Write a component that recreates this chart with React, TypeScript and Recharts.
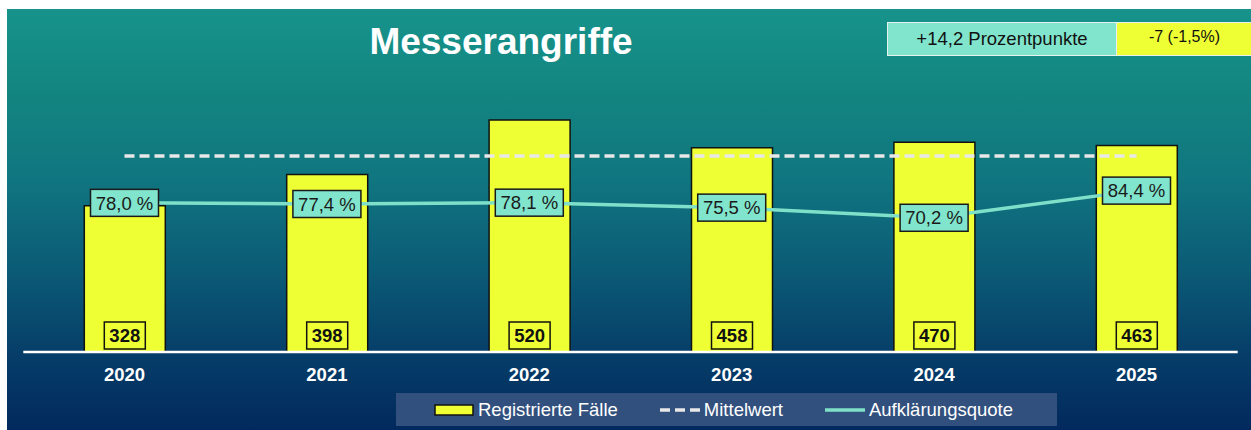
import React from 'react';
import { ComposedChart, Bar, Line, XAxis, YAxis, LabelList, Legend } from 'recharts';

const years = ['2020', '2021', '2022', '2023', '2024', '2025'];
const registrierteFaelle = [328, 398, 520, 458, 470, 463];
const aufklaerungsquote = [78.0, 77.4, 78.1, 75.5, 70.2, 84.4];
const mittelwert = [439.5, 439.5, 439.5, 439.5, 439.5, 439.5];

const title = 'Messerangriffe';
const changeQuote = '+14,2 Prozentpunkte';
const changeFaelle = '-7 (-1,5%)';
const legendLabels = ['Registrierte Fälle', 'Mittelwert', 'Aufklärungsquote'];

const FONT = '"Liberation Sans", Arial, sans-serif';
const YELLOW = '#eeff33';
const TEAL = '#80e5cc';
const LINE_TEAL = '#7fe0c9';

const data = years.map((y, i) => ({
  year: y,
  faelle: registrierteFaelle[i],
  quote: aufklaerungsquote[i],
  mittel: mittelwert[i],
}));

const BarValueLabel = (props: any) => {
  const { x, y, width, height, value } = props;
  const w = 41;
  const h = 27;
  const cx = Number(x) + Number(width) / 2;
  const bottom = Number(y) + Number(height) - 3;
  return (
    <g>
      <rect x={cx - w / 2} y={bottom - h} width={w} height={h} fill={YELLOW} stroke="#111" strokeWidth={1.5} />
      <text x={cx} y={bottom - h / 2 + 6.7} textAnchor="middle" fontFamily={FONT} fontWeight="bold" fontSize={18.5} fill="#111">
        {value}
      </text>
    </g>
  );
};

const QuoteLabel = (props: any) => {
  const { x, y, value } = props;
  const w = 68;
  const h = 27;
  const txt = Number(value).toFixed(1).replace('.', ',') + ' %';
  return (
    <g>
      <rect x={Number(x) - w / 2} y={Number(y) - h / 2} width={w} height={h} fill={TEAL} stroke="#1a1a1a" strokeWidth={1.5} />
      <text x={Number(x)} y={Number(y) + 6.7} textAnchor="middle" fontFamily={FONT} fontSize={18.5} fill="#1a1a1a">
        {txt}
      </text>
    </g>
  );
};

const LegendContent = () => {
  const icons = [
    <svg width={40} height={12} key="b"><rect x={1} y={1} width={38} height={10} fill={YELLOW} stroke="#111" strokeWidth={1.5} /></svg>,
    <svg width={40} height={12} key="m"><line x1={0} y1={6} x2={40} y2={6} stroke="#e8e8e8" strokeWidth={3.5} strokeDasharray="10 5" /></svg>,
    <svg width={40} height={12} key="q"><line x1={0} y1={6} x2={40} y2={6} stroke={LINE_TEAL} strokeWidth={3.5} /></svg>,
  ];
  return (
    <div
      style={{
        width: 661,
        height: 33,
        background: '#32507e',
        display: 'flex',
        alignItems: 'center',
        justifyContent: 'center',
        gap: 42,
        fontFamily: FONT,
        fontSize: 18.5,
        color: '#ffffff',
        boxSizing: 'border-box',
        paddingRight: 6,
      }}
    >
      {legendLabels.map((l, i) => (
        <div key={l} style={{ display: 'flex', alignItems: 'center', gap: 4 }}>
          {icons[i]}
          <span>{l}</span>
        </div>
      ))}
    </div>
  );
};

export default function App() {
  return (
    <div
      style={{
        position: 'absolute',
        left: 7,
        top: 9,
        width: 1244,
        height: 421,
        background: 'linear-gradient(180deg, #17938c 0%, #138580 20%, #107680 40%, #0b5b76 62%, #063e69 82%, #02295d 100%)',
        overflow: 'hidden',
        fontFamily: FONT,
      }}
    >
      <div
        style={{
          position: 'absolute',
          left: 300,
          width: 388,
          top: 14,
          textAlign: 'center',
          fontSize: 37,
          lineHeight: '37px',
          fontWeight: 'bold',
          color: '#ffffff',
        }}
      >
        {title}
      </div>
      <div
        style={{
          position: 'absolute',
          left: 880,
          top: 13,
          height: 34,
          width: 370,
          display: 'flex',
          boxSizing: 'border-box',
          border: '1.5px solid #e6f2f0',
        }}
      >
        <div
          style={{
            width: 228,
            background: TEAL,
            display: 'flex',
            alignItems: 'center',
            justifyContent: 'center',
            fontSize: 18.5,
            color: '#111',
            borderRight: '1px solid #e6f2f0',
          }}
        >
          {changeQuote}
        </div>
        <div
          style={{
            width: 135,
            background: YELLOW,
            display: 'flex',
            alignItems: 'center',
            justifyContent: 'center',
            fontSize: 16,
            color: '#111',
            paddingBottom: 4,
            boxSizing: 'border-box',
          }}
        >
          {changeFaelle}
        </div>
      </div>
      <ComposedChart
        width={1244}
        height={421}
        data={data}
        margin={{ top: 75.3, right: 13.3, bottom: 48, left: 16.3 }}
        style={{ position: 'absolute', left: 0, top: 0 }}
      >
        <XAxis
          dataKey="year"
          axisLine={{ stroke: '#ffffff', strokeWidth: 2.5 }}
          tickLine={false}
          tickSize={0}
          tickMargin={16}
          height={30}
          tick={{ fill: '#ffffff', fontSize: 18.5, fontWeight: 'bold', fontFamily: FONT }}
        />
        <YAxis yAxisId="faelle" domain={[0, 600]} hide />
        <YAxis yAxisId="quote" orientation="right" domain={[0, 140]} hide />
        <Bar
          yAxisId="faelle"
          dataKey="faelle"
          name={legendLabels[0]}
          fill={YELLOW}
          stroke="#111"
          strokeWidth={1.5}
          barSize={81}
          isAnimationActive={false}
        >
          <LabelList dataKey="faelle" content={BarValueLabel} />
        </Bar>
        <Line
          yAxisId="faelle"
          dataKey="mittel"
          name={legendLabels[1]}
          stroke="#e8e8e8"
          strokeWidth={3.5}
          strokeDasharray="10 5"
          dot={false}
          activeDot={false}
          isAnimationActive={false}
        />
        <Line
          yAxisId="quote"
          dataKey="quote"
          name={legendLabels[2]}
          stroke={LINE_TEAL}
          strokeWidth={3.5}
          dot={false}
          activeDot={false}
          isAnimationActive={false}
        >
          <LabelList dataKey="quote" content={QuoteLabel} />
        </Line>
        <Legend
          layout="horizontal"
          verticalAlign="middle"
          align="center"
          content={LegendContent}
          wrapperStyle={{ position: 'absolute', left: 389, top: 384, width: 661, height: 33 }}
        />
      </ComposedChart>
    </div>
  );
}
